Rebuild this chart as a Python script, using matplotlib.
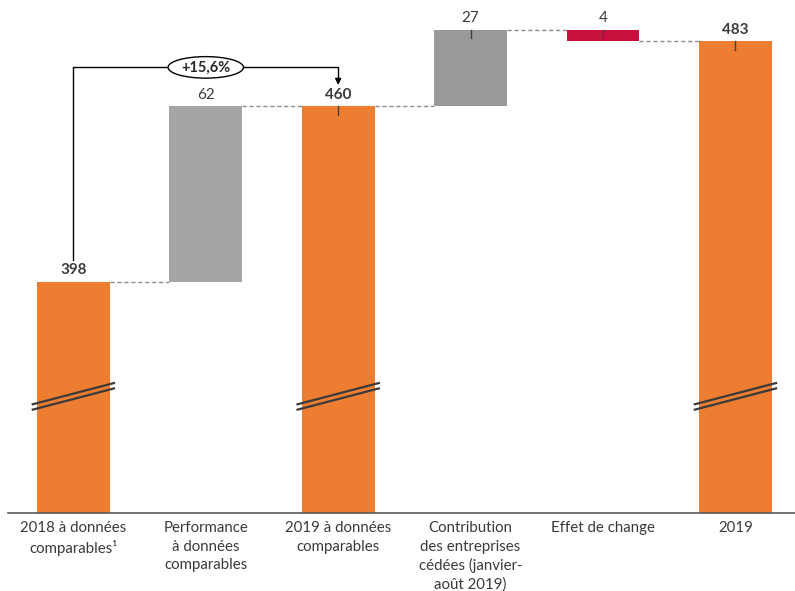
import numpy as np
import matplotlib
matplotlib.use("Agg")
import matplotlib.pyplot as plt
from matplotlib.patches import Ellipse

plt.rcParams['font.family'] = ['Lato', 'DejaVu Sans']

# data
categories = ["2018 à données\ncomparables¹",
              "Performance\nà données\ncomparables",
              "2019 à données\ncomparables",
              "Contribution\ndes entreprises\ncédées (janvier-\naoût 2019)",
              "Effet de change",
              "2019"]
values = [398, 62, 460, 27, -4, 483]
is_total = [True, False, True, False, False, True]
value_labels = ["398", "62", "460", "27", "4", "483"]
growth_label = "+15,6%"

ORANGE = "#ED7D31"
GREY1 = "#A5A5A5"
GREY2 = "#999999"
RED = "#C8103E"
TXT = "#3A3A3A"

y_min, y_max = 316.3, 497.5

fig = plt.figure(figsize=(7.95, 5.91), dpi=100)
ax = fig.add_axes([0.01, 0.132, 0.99, 0.868])

# waterfall levels
bottoms, tops = [], []
level = 0
for v, tot in zip(values, is_total):
    if tot:
        bottoms.append(y_min - 5)
        tops.append(v)
        level = v
    else:
        bottoms.append(level)
        level = level + v
        tops.append(level)

colors = []
for i, tot in enumerate(is_total):
    if tot:
        colors.append(ORANGE)
    elif values[i] < 0:
        colors.append(RED)
    elif i == 1:
        colors.append(GREY1)
    else:
        colors.append(GREY2)

x = np.arange(len(values))
w = 0.55
heights = [t - b for t, b in zip(tops, bottoms)]
ax.bar(x, heights, bottom=bottoms, width=w, color=colors, zorder=2)

# dashed connectors
for i in range(len(values) - 1):
    ax.plot([x[i] + w / 2, x[i + 1] - w / 2], [tops[i], tops[i]],
            color="#8C8C8C", linestyle=(0, (3, 2)), linewidth=1, zorder=1)

# value labels + small ticks
for i in range(len(values)):
    top = max(tops[i], bottoms[i])
    bold = is_total[i]
    ax.text(x[i], top + 1.6, value_labels[i], ha="center", va="bottom",
            fontsize=11, fontweight="bold" if bold else "normal", color=TXT)
    if i >= 2:
        ax.plot([x[i], x[i]], [top, top - 3], color="#404040", linewidth=1, zorder=3)

# break marks on total bars
for i in range(len(values)):
    if is_total[i]:
        for off in (0, -1.9):
            ax.plot([x[i] - 0.315, x[i] + 0.315], [354.6 + off, 362.3 + off],
                    color="#3A3A3A", linewidth=1.6, zorder=4, solid_capstyle="butt")

# growth bracket
y_start = values[0] + 7.5
y_bracket = 473.7
ax.plot([x[0], x[0], x[2], x[2]], [y_start, y_bracket, y_bracket, y_bracket - 4],
        color="black", linewidth=1, zorder=3)
ax.annotate("", xy=(x[2], values[2] + 6.5), xytext=(x[2], y_bracket - 3),
            arrowprops=dict(arrowstyle="-|>", color="black", lw=1, mutation_scale=9))
ax.add_patch(Ellipse((x[1], y_bracket), 0.57, 7.6, facecolor="white",
                     edgecolor="black", linewidth=1, zorder=4))
ax.text(x[1], y_bracket, growth_label, ha="center", va="center", fontsize=10.5,
        fontweight="bold", color="#262626", zorder=5)

ax.set_xlim(-0.494, 5.45)
ax.set_ylim(y_min, y_max)
ax.set_xticks(x)
ax.set_xticklabels(categories, fontsize=10.8, color=TXT, linespacing=1.38, va="top")
ax.tick_params(axis="x", length=0, pad=6)
ax.set_yticks([])
for s in ["top", "right", "left"]:
    ax.spines[s].set_visible(False)
ax.spines["bottom"].set_color("#595959")
ax.spines["bottom"].set_linewidth(1.2)

fig.savefig("out.png", dpi=100)
